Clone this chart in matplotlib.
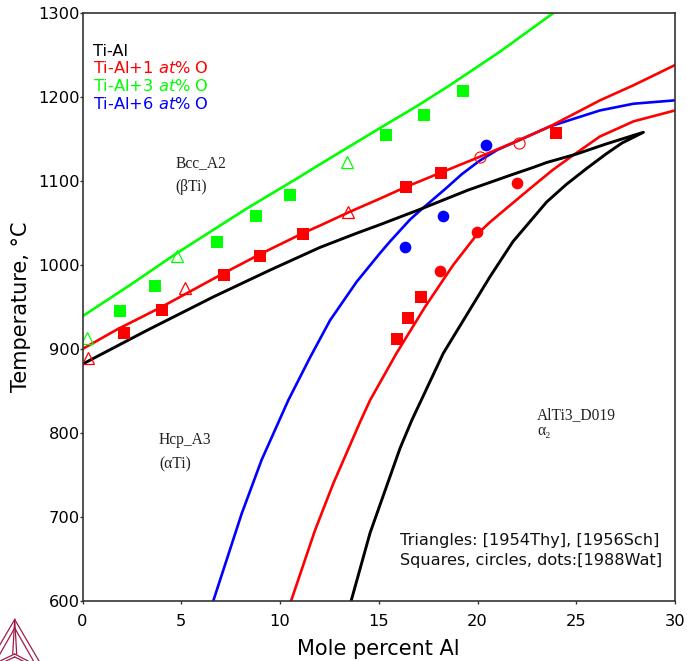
import matplotlib
matplotlib.use("Agg")
import matplotlib.pyplot as plt
from matplotlib.lines import Line2D

# ------------------------------
# Calculated boundaries (mole percent Al, temperature)
# ------------------------------
black_x = [0, 3.25, 6.62, 9.5, 12.03, 13.9, 15.06, 17.17, 19.5, 21.8, 22.8, 23.5, 25.0, 26.5, 28.4,
           27.3, 26.5, 25.53, 24.5, 23.5, 21.8, 20.63, 18.27, 16.67, 16.08, 14.56, 13.6]
black_t = [882, 922, 962, 994, 1021, 1038, 1048, 1067, 1089, 1108, 1116, 1122, 1132, 1144, 1158,
           1145, 1132, 1115, 1096, 1075, 1028, 986, 895, 815, 782, 681, 600]

red_up_x = [0, 1.73, 4.0, 7.13, 9.0, 11.17, 12.03, 13.5, 15.06, 16.38, 18.15, 20.13, 22.15, 23.67, 26.2, 27.9, 30]
red_up_t = [900, 923, 950, 990, 1013, 1038, 1047, 1063, 1079, 1093, 1110, 1129, 1149, 1165, 1196, 1214, 1238]

red_low_x = [10.56, 11.77, 12.7, 14.09, 14.56, 15.9, 17.34, 18.77, 19.96, 20.63, 22.66, 23.8, 24.8, 26.2, 27.9, 30]
red_low_t = [600, 684, 740, 815, 839, 895, 950, 1000, 1036, 1051, 1091, 1113, 1130, 1153, 1171, 1184]

blue_x = [6.62, 8.06, 9.07, 10.42, 11.5, 12.53, 13.88, 15.06, 15.57, 16.58, 17.1, 18.44, 19.2, 20.1, 21.0, 22.15, 23.67, 26.2, 27.9, 30]
blue_t = [600, 704, 768, 839, 889, 934, 980, 1014, 1028, 1054, 1065, 1092, 1108, 1124, 1137, 1149, 1165, 1184, 1192, 1196]

green_x = [0, 2.4, 4.77, 8.3, 11.0, 12.03, 15.06, 16.92, 18.6, 21.14, 23.84]
green_t = [939, 976, 1014, 1067, 1105, 1120, 1163, 1189, 1214, 1254, 1300]

# ------------------------------
# Experimental points
# ------------------------------
red_sq_x = [2.1, 4.03, 7.16, 8.99, 11.16, 16.38, 18.15, 23.97, 15.92, 16.48, 17.14]
red_sq_t = [919, 946, 988, 1011, 1037, 1093, 1110, 1157, 912, 937, 962]
red_dot_x = [18.09, 19.96, 21.98]
red_dot_t = [993, 1039, 1098]
red_open_x = [20.13, 22.1]
red_open_t = [1129, 1145]
red_tri_x = [0.3, 5.19, 13.44]
red_tri_t = [889, 973, 1063]

green_sq_x = [1.9, 3.67, 6.81, 8.78, 10.5, 15.37, 17.29, 19.27]
green_sq_t = [945, 975, 1027, 1058, 1083, 1155, 1179, 1207]
green_tri_x = [0.23, 4.78, 13.39]
green_tri_t = [913, 1011, 1123]

blue_dot_x = [16.31, 18.25, 20.42]
blue_dot_t = [1021, 1058, 1143]

x_ticks = [0, 5, 10, 15, 20, 25, 30]
y_ticks = [600, 700, 800, 900, 1000, 1100, 1200, 1300]

RED = "#ff0000"
GREEN = "#00ff00"
BLUE = "#0000ff"
GREY = "#333333"

fig = plt.figure(figsize=(6.87, 6.61), dpi=100)
ax = fig.add_axes([82.5 / 687, 1 - 601 / 661, 592.5 / 687, 588 / 661])

ax.plot(green_x, green_t, color=GREEN, lw=1.9)
ax.plot(blue_x, blue_t, color=BLUE, lw=1.9)
ax.plot(red_up_x, red_up_t, color=RED, lw=1.9)
ax.plot(red_low_x, red_low_t, color=RED, lw=1.9)
ax.plot(black_x, black_t, color="black", lw=2.1)

ax.plot(green_sq_x, green_sq_t, "s", color=GREEN, ms=8.4, mew=0)
ax.plot(red_sq_x, red_sq_t, "s", color=RED, ms=8.4, mew=0)
ax.plot(red_dot_x, red_dot_t, "o", color=RED, ms=8.4, mew=0)
ax.plot(blue_dot_x, blue_dot_t, "o", color=BLUE, ms=8.4, mew=0)
ax.plot(red_open_x, red_open_t, "o", mfc="none", mec=RED, ms=8, mew=0.8)
ax.plot(red_tri_x, red_tri_t, "^", mfc="none", mec=RED, ms=9, mew=0.9)
ax.plot(green_tri_x, green_tri_t, "^", mfc="none", mec=GREEN, ms=9, mew=0.9)

ax.set_xlim(0, 30)
ax.set_ylim(600, 1300)
ax.set_xticks(x_ticks)
ax.set_yticks(y_ticks)
ax.tick_params(labelsize=11.7, length=2, width=1, color=GREY)
ax.tick_params(axis="x", pad=7)
ax.tick_params(axis="y", pad=0)
for side in ax.spines.values():
    side.set_color(GREY)
    side.set_linewidth(1.2)

ax.set_xlabel("Mole percent Al", fontsize=15, va="center")
ax.set_ylabel("Temperature, °C", fontsize=15, va="center")
ax.xaxis.set_label_coords(0.5, -0.082)
ax.yaxis.set_label_coords(-0.104, 0.5)

# legend text
leg = dict(fontsize=11.7, va="center")
fig.text(93 / 687, 1 - 51 / 661, "Ti-Al", color="black", **leg)
fig.text(93 / 687, 1 - 68 / 661, "Ti-Al+1 $\\mathit{at\\%}$ O", color=RED, **leg)
fig.text(93 / 687, 1 - 86 / 661, "Ti-Al+3 $\\mathit{at\\%}$ O", color=GREEN, **leg)
fig.text(93 / 687, 1 - 104 / 661, "Ti-Al+6 $\\mathit{at\\%}$ O", color=BLUE, **leg)

# phase labels
serif = dict(family="Liberation Serif", fontsize=11.2, va="center", color="#222222")
fig.text(176 / 687, 1 - 163 / 661, "Bcc_A2", **serif)
fig.text(175 / 687, 1 - 187 / 661, "(βTi)", **serif)
fig.text(159 / 687, 1 - 440 / 661, "Hcp_A3", **serif)
fig.text(159 / 687, 1 - 464 / 661, "(αTi)", **serif)
fig.text(537 / 687, 1 - 415 / 661, "AlTi3_D019", **serif)
fig.text(537 / 687, 1 - 431 / 661, "α₂", **serif)

note = dict(fontsize=11.6, va="center", color="#111111")
fig.text(400 / 687, 1 - 541 / 661, "Triangles: [1954Thy], [1956Sch]", **note)
fig.text(400 / 687, 1 - 561 / 661, "Squares, circles, dots:[1988Wat]", **note)

# logo, bottom left corner
logo = "#a01c48"
W, H = 687.0, 661.0
logo_lines = [
    [(14.7, 619.5), (-9.6, 661)], [(14.7, 619.5), (39, 661)],
    [(14.7, 628), (-4, 661)], [(14.7, 628), (33.5, 661)],
    [(14.7, 619.5), (12.7, 654)], [(14.7, 619.5), (16.7, 654)],
    [(14.7, 654), (0, 661)], [(14.7, 654), (28, 661)],
    [(14.7, 657), (6, 661)], [(14.7, 657), (23, 661)],
]
for line in logo_lines:
    fig.add_artist(Line2D([p[0] / W for p in line], [1 - p[1] / H for p in line],
                          color=logo, lw=0.9, transform=fig.transFigure))

fig.savefig("out.png", dpi=100)
